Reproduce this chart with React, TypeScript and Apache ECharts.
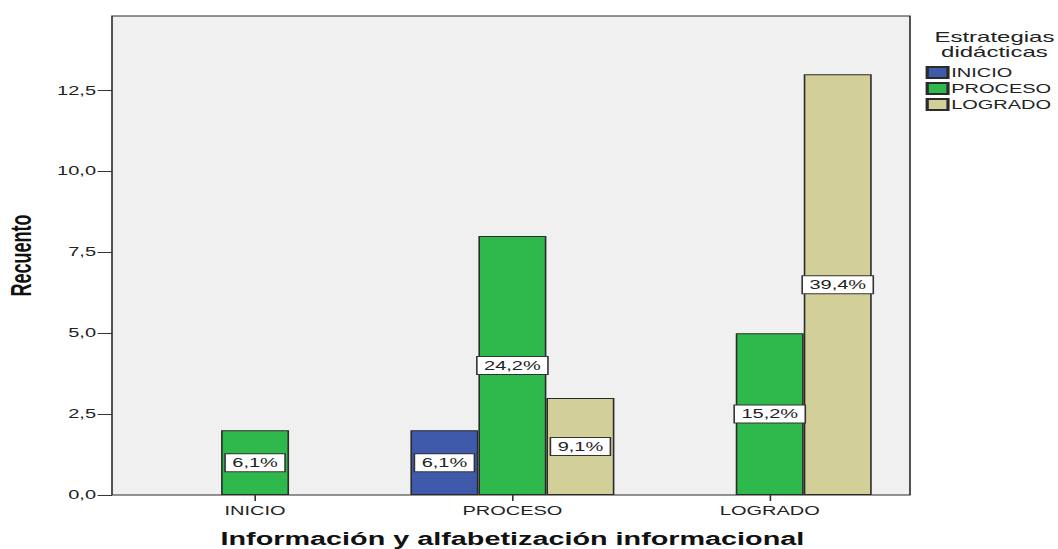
import React, { useEffect, useRef } from "react";
import * as echarts from "echarts";

const categories = ["INICIO", "PROCESO", "LOGRADO"];
const seriesNames = ["INICIO", "PROCESO", "LOGRADO"];
const inicioValues = [null, 2, null];
const procesoValues = [2, 8, 5];
const logradoValues = [null, 3, 13];
const seriesColors = ["#3f5aab", "#2fb84b", "#d3cf98"];
const yTicks = [0, 2.5, 5, 7.5, 10, 12.5];
const total = 33;

const STRETCH = 1.6;
const W = 1058 / STRETCH;
const H = 549;
const FONT = "'Liberation Sans', Arial, sans-serif";

export default function App() {
  const ref = useRef<HTMLDivElement>(null);
  useEffect(() => {
    if (!ref.current) return;
    const chart = echarts.init(ref.current, null, { renderer: "svg" });
    const values = [inicioValues, procesoValues, logradoValues];
    const fmtPct = (v: number) => ((v / total) * 100).toFixed(1).replace(".", ",") + "%";
    chart.setOption({
      animation: false,
      backgroundColor: "#ffffff",
      textStyle: { fontFamily: FONT },
      graphic: [
        {
          type: "rect",
          z: -10,
          silent: true,
          shape: { x: 70, y: 16, width: 498.75, height: 479 },
          style: { fill: "#f0f0f0", stroke: "#2b2b2b", lineWidth: 1 },
        },
      ],
      title: {
        text: "Estrategias\ndidácticas",
        left: 616.5,
        top: 24,
        textAlign: "center",
        textStyle: {
          fontFamily: FONT,
          fontWeight: "normal",
          fontSize: 15,
          lineHeight: 15.5,
          color: "#222",
        },
      },
      legend: {
        orient: "vertical",
        left: 573.5,
        top: 61,
        itemWidth: 13,
        itemHeight: 11,
        itemGap: 3,
        icon: "rect",
        data: seriesNames,
        textStyle: { fontFamily: FONT, fontSize: 12.5, color: "#222", padding: [0, 0, 0, -3] },
      },
      grid: {
        left: 79,
        right: W - 561.75,
        top: 16,
        bottom: H - 495,
        containLabel: false,
        outerBoundsMode: "none",
      },
      xAxis: {
        type: "category",
        data: categories,
        axisLine: { show: false },
        axisTick: { show: true, alignWithLabel: true, length: 6, lineStyle: { color: "#333" } },
        axisLabel: { fontFamily: FONT, fontSize: 12.5, color: "#222", margin: 9 },
        name: "Información y alfabetización informacional",
        nameLocation: "middle",
        nameGap: 35,
        nameTextStyle: { fontFamily: FONT, fontSize: 18, fontWeight: "bold", color: "#111" },
      },
      yAxis: {
        type: "value",
        min: 0,
        max: 14.8,
        interval: 2.5,
        offset: 9,
        axisLine: { show: false },
        splitLine: { show: false },
        axisTick: { show: true, length: 9, customValues: yTicks, lineStyle: { color: "#333" } },
        axisLabel: {
          customValues: yTicks,
          fontFamily: FONT,
          fontSize: 12.5,
          color: "#222",
          margin: 10,
          formatter: (v: number) => v.toFixed(1).replace(".", ","),
        },
        name: "Recuento",
        nameLocation: "middle",
        nameRotate: 90,
        nameGap: 48,
        nameTextStyle: { fontFamily: FONT, fontSize: 18, fontWeight: "bold", color: "#111" },
      },
      series: seriesNames.map((name, i) => ({
        name,
        type: "bar",
        data: values[i],
        barWidth: 42.5,
        barGap: "0%",
        itemStyle: { color: seriesColors[i], borderColor: "#2b2b2b", borderWidth: 1 },
        label: {
          show: true,
          position: "inside",
          formatter: (p: any) => fmtPct(p.value),
          fontFamily: FONT,
          fontSize: 12.5,
          color: "#222",
          backgroundColor: "#ffffff",
          borderColor: "#333",
          borderWidth: 1,
          padding: [2, 4, 2, 4],
        },
      })),
    });
    return () => chart.dispose();
  }, []);
  return (
    <div
      ref={ref}
      style={{
        position: "fixed",
        left: 0,
        top: 0,
        width: W + "px",
        height: H + "px",
        transform: `scaleX(${STRETCH})`,
        transformOrigin: "0 0",
      }}
    />
  );
}
